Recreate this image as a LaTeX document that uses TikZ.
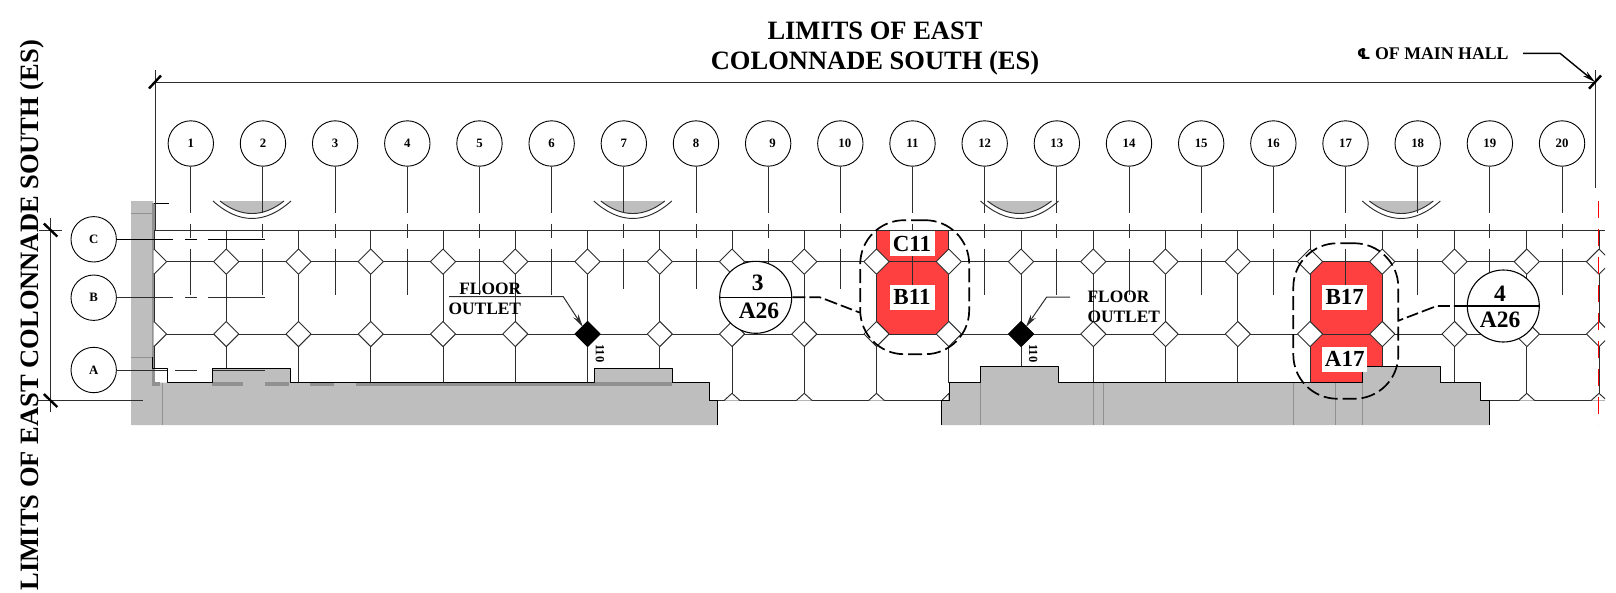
\documentclass[tikz,border=0pt]{standalone}
\usepackage{fontspec}
\setmainfont{Liberation Serif}
\newfontfamily\clfont{DejaVu Sans}
\usetikzlibrary{shapes.geometric,arrows.meta}
\definecolor{wallgray}{RGB}{190,190,190}
\definecolor{seamgray}{RGB}{145,145,145}
\definecolor{linegray}{RGB}{45,45,45}
\definecolor{zonered}{RGB}{255,64,64}
\begin{document}
\begin{tikzpicture}[x=1pt,y=-1pt,>={Stealth[length=13pt,width=6pt]},line join=round,
	gridline/.style={draw=linegray,line width=0.95pt},
	seam/.style={draw=seamgray,line width=0.7pt},
	axisline/.style={draw=linegray,line width=0.95pt,dash pattern=on 46.7pt off 10.3pt on 14pt off 11pt on 300pt},
	bubble/.style={circle,draw=black,fill=white,line width=0.9pt,minimum size=45.4pt,inner sep=0pt,font=\fontsize{12.8}{13}\selectfont\bfseries},
	joint/.style={diamond,draw=linegray,fill=white,line width=0.9pt,minimum size=25.6pt,inner sep=0pt},
	outlet/.style={joint,fill=black,draw=black},
	zone/.style={fill=white,inner sep=1pt,text width=43pt,align=center,minimum height=25pt,font=\fontsize{23}{23}\selectfont\bfseries},
	cloudline/.style={draw=black,line width=1.7pt,dash pattern=on 14pt off 5pt,rounded corners=44pt,rectangle,inner sep=0pt},
	sectionmark/.style={circle,draw=black,fill=white,line width=1.1pt,minimum size=72pt,inner sep=0pt},
	sectiontext/.style={inner sep=0pt,font=\fontsize{23.5}{23.5}\selectfont\bfseries},
	note/.style={inner sep=0pt,anchor=west,font=\fontsize{17.4}{18}\selectfont\bfseries},
	title/.style={inner sep=0pt,font=\fontsize{26.5}{30}\selectfont\bfseries},
	dimline/.style={draw=linegray,line width=1pt},
	tick/.style={draw=black,line width=2.4pt}]
	\useasboundingbox (0,0) rectangle (1616,592);
	\def\ya{230} \def\yb{261.7} \def\yc{334} \def\yd{382.6} \def\ye{400.6} \def\yf{425}
	% red zones
	\fill[zonered] (876.7,\ya) rectangle (949,\yc);
	\fill[zonered] (1309.7,\yb) rectangle (1382,\yd);
	% walls
	\fill[wallgray] (131,201)--(153,201)--(153,\yd)--(212,\yd)--(212,368)--(290.7,368)--(290.7,\yd)--(594.3,\yd)--(594.3,368)--(672,368)--(672,\yd)--(709.3,\yd)--(709.3,\ye)--(717.7,\ye)--(717.7,\yf)--(131,\yf)--cycle;
	\fill[wallgray] (941.7,\yf)--(941.7,\ye)--(949.3,\ye)--(949.3,\yd)--(980.3,\yd)--(980.3,366.7)--(1058.3,366.7)--(1058.3,\yd)--(1362.7,\yd)--(1362.7,366.7)--(1440.3,366.7)--(1440.3,\yd)--(1480.7,\yd)--(1480.7,\ye)--(1489.3,\ye)--(1489.3,\yf)--cycle;
	\fill[seamgray] (152,203) rectangle (154.5,\yd);
	\foreach \xa/\xb in {152/160,212/243,265/289,310/334,356/594,594/672}
		\fill[seamgray] (\xa,381.5) rectangle (\xb,385.5);
	\foreach \xa in {162,980.3,1093,1103.7,1293.3,1335,1362.7}
		\draw[seam] (\xa,\yd)--(\xa,\yf);
	\draw[seam] (131,213)--(153,213) (131,357)--(152,357);
	% niches
	\foreach \n in {252,632.8,1019.5,1401.3}{
		\fill[wallgray] (\n-32,201) .. controls (\n-11,217.7) and (\n+11,217.7) .. (\n+32,201)--cycle;
		\draw[gridline] (\n-39,201) .. controls (\n-13,224.3) and (\n+13,224.3) .. (\n+39,201);
		\draw[gridline] (\n-32,201) .. controls (\n-11,217.7) and (\n+11,217.7) .. (\n+32,201);
	}
	% structural grid
	\begin{scope}
		\clip (153.5,0) rectangle (1605,592);
		\foreach \y in {\ya,\yb,\yc} \draw[gridline] (154,\y)--(1605,\y);
		\foreach \i/\e in {0/368,1/368,2/\yd,3/\yd,4/\yd,5/\yd,6/\yd,7/368,8/\ye,9/\ye,10/\ye,11/\yd,12/366.7,13/\yd,14/\yd,15/\yd,16/\yd,17/366.7,18/\yd,19/\ye,20/\ye}
			\draw[gridline] ({154+72.25*\i},\ya)--({154+72.25*\i},\e);
		\draw[gridline] (709.3,\ye)--(941.7,\ye) (1489.3,\ye)--(1605,\ye);
		\foreach \i in {8,9,10,19,20}
			\draw[gridline,fill=white] ({154+72.25*\i-8},\ye)--({154+72.25*\i},393.3)--({154+72.25*\i+8},\ye);
		\draw[gridline,fill=white] (941.7,\ye)--(949,393.3)--(949,\ye);
		\foreach \i in {0,...,20}{
			\node[joint] (jb\i) at ({154+72.25*\i},\yb) {};
			\ifnum\i=6 \node[outlet] (jc\i) at ({154+72.25*\i},\yc) {};
			\else\ifnum\i=12 \node[outlet] (jc\i) at ({154+72.25*\i},\yc) {};
			\else \node[joint] (jc\i) at ({154+72.25*\i},\yc) {};
			\fi\fi
		}
	\end{scope}
	% wall outlines
	\draw[draw=black,line width=0.95pt] (152,357)--(152,368)--(167.7,368)--(167.7,\yd)--(212,\yd)--(212,368)--(290.7,368)--(290.7,\yd)--(594.3,\yd)--(594.3,368)--(672,368)--(672,\yd)--(709.3,\yd)--(709.3,\ye)--(717.7,\ye)--(717.7,\yf);
	\draw[draw=black,line width=0.95pt] (941.7,\yf)--(941.7,\ye)--(949.3,\ye)--(949.3,\yd)--(980.3,\yd)--(980.3,366.7)--(1058.3,366.7)--(1058.3,\yd)--(1362.7,\yd)--(1362.7,366.7)--(1440.3,366.7)--(1440.3,\yd)--(1480.7,\yd)--(1480.7,\ye)--(1489.3,\ye)--(1489.3,\yf);
	\draw[draw=black,line width=0.95pt] (154,203)--(169,203);
	% column bubbles
	\foreach \i/\e/\k in {1/295/0,2/295/0,3/295/0,4/295/0,5/295/0,6/295/0,7/289/0,8/289/0,9/295/9,10/289/9,11/290/0,12/295/0,13/295/0,14/295/0,15/295/0,16/295/0,17/290/0,18/295/0,19/295/0,20/295/0}{
		\node[bubble] (col\i) at ({190.8+72.17*(\i-1)},143.5) {\kern\k pt\i};
		\draw[axisline] (col\i.south)--({190.8+72.17*(\i-1)},\e);
	}
	% row bubbles
	\node[bubble] (rowC) at (93.7,239.3) {C};
	\node[bubble] (rowB) at (93.7,297.7) {B};
	\node[bubble] (rowA) at (93.7,370) {A};
	\coordinate (endC) at (265,239.3);
	\coordinate (endB) at (265,297.7);
	\coordinate (endA) at (265,370);
	\draw[gridline,draw=black,dash pattern=on 57pt off 12pt on 12pt off 11pt on 57pt] (rowC)++(22.7,0)--(endC);
	\draw[gridline,dash pattern=on 57pt off 12pt on 12pt off 11pt on 57pt] (rowB)++(22.7,0)--(endB);
	\draw[gridline,dash pattern=on 51pt off 8pt on 22pt off 16pt on 52pt] (rowA)++(22.7,0)--(endA);
	% centre line at the main hall
	\draw[red,line width=1pt,dash pattern=on 17pt off 11pt] (1598.7,201)--(1598.7,\yf);
	% dimensions
	\coordinate (dimL) at (155,82);
	\coordinate (dimR) at (1595,82);
	\draw[dimline] (dimL)--(dimR);
	\draw[gridline] (155,70)--(155,\ya) (1595,70)--(1595,188);
	\draw[tick] (149,88.5)--(161,75.5);
	\draw[tick] (1589,88.7)--(1601,75.5);
	\coordinate (dimT) at (50.7,218);
	\coordinate (dimB) at (50.7,411.7);
	\draw[dimline] (dimT)--(dimB);
	\draw[dimline] (38.7,\ya)--(62,\ya) (38.3,\ye)--(142.7,\ye);
	\draw[tick] (43.8,223.5)--(57.3,236.5);
	\draw[tick] (43.8,394)--(57.3,407);
	\node[title,align=center] (topTitle) at (875,49) {LIMITS OF EAST\\COLONNADE SOUTH (ES)};
	\node[title,rotate=90] (sideTitle) at (32,315) {LIMITS OF EAST COLONNADE SOUTH (ES)};
	\node[note,font=\fontsize{17.8}{18}\selectfont\bfseries] (hall) at (1357,53.3) {{\clfont\bfseries\fontsize{15}{15}\selectfont ℄} OF MAIN HALL};
	\coordinate (hallA) at (1523,53.3);
	\coordinate (hallB) at (1560,53.3);
	\draw[->,line width=1.4pt] (hallA)--(hallB)--(dimR);
	% zones
	\node[zone] (zC11) at (912,243.8) {C11};
	\node[zone] (zB11) at (912,297) {B11};
	\node[zone] (zB17) at (1344.7,297) {B17};
	\node[zone] (zA17) at (1344.7,359) {A17};
	\node[cloudline,minimum width=109pt,minimum height=134pt] (cloud11) at (914.7,287.2) {};
	\node[cloudline,minimum width=105pt,minimum height=155.5pt] (cloud17) at (1345.8,321) {};
	% section marks
	\node[sectionmark] (sec3) at (755.7,297.3) {};
	\draw[line width=1.1pt] (sec3.west)--(sec3.east);
	\node[sectiontext] (num3) at (757.7,282.7) {3};
	\node[sectiontext] (sht3) at (759,310.7) {A26};
	\coordinate (bend3) at (820,297.3);
	\coordinate (end3) at (860,312.7);
	\draw[line width=1.7pt,dash pattern=on 13pt off 4pt on 12pt off 4pt] (sec3.east)--(bend3)--(end3);
	\node[sectionmark] (sec4) at (1503.3,306) {};
	\draw[line width=1.1pt] (sec4.west)--(sec4.east);
	\node[sectiontext] (num4) at (1500,293.3) {4};
	\node[sectiontext] (sht4) at (1500,320) {A26};
	\coordinate (bend4) at (1436.7,306);
	\coordinate (end4) at (1398.3,320.7);
	\draw[line width=1.7pt,dash pattern=on 13pt off 4pt on 12pt off 4pt] (sec4.west)--(bend4)--(end4);
	% floor outlets
	\node[note,anchor=center] (floorA) at (490.2,289) {FLOOR};
	\node[note,anchor=center] (outletA) at (484.8,309) {OUTLET};
	\coordinate (leadA) at (449,296.7);
	\coordinate (bendA) at (563.3,296.7);
	\draw[->,gridline,line width=1pt,shorten >=-1pt] (leadA)--(bendA)--(jc6);
	\node[note] (floorB) at (1087.3,297.3) {FLOOR};
	\node[note] (outletB) at (1087.3,316.7) {OUTLET};
	\coordinate (leadB) at (1070,297);
	\coordinate (bendB) at (1046.7,297);
	\draw[->,gridline,line width=1pt,shorten >=-1pt] (leadB)--(bendB)--(jc12);
	\node[note,rotate=-90,anchor=center,font=\fontsize{12.5}{12}\selectfont\bfseries] (outA) at (600,353.3) {110};
	\node[note,rotate=-90,anchor=center,font=\fontsize{12.5}{12}\selectfont\bfseries] (outB) at (1033.3,353.3) {110};
\end{tikzpicture}
\end{document}
